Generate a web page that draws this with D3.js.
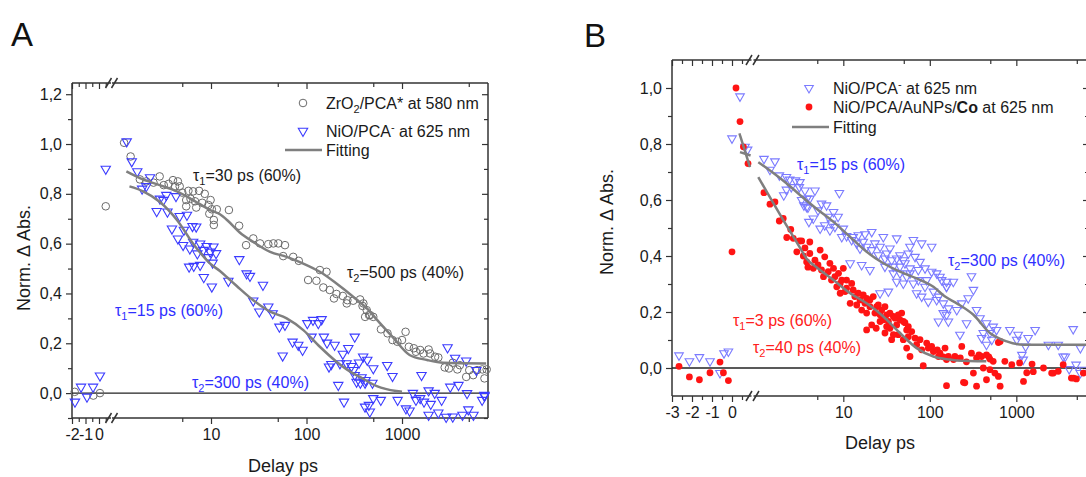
<!DOCTYPE html>
<html>
<head>
<meta charset="utf-8">
<script src="https://d3js.org/d3.v7.min.js"></script>
<style>
body { margin: 0; background: #fff; }
svg { display: block; }
text { font-family: Arial, "Liberation Sans", sans-serif; }
</style>
</head>
<body>
<div id="chart"></div>
<script>
// ---- panel A data: [delay ps, norm. abs] ----
var aLinCircle = [[-1.8, 0.005], [-0.42, -0.01], [0.07, 0.0], [0.5, 0.75]];
var aLinTri = [[-1.78, -0.035], [-1.33, 0.025], [-0.89, -0.015], [-0.44, 0.025], [0.07, 0.07], [0.5, 0.9]];
var aCircle = [[1.23,1.005],[1.44,0.95],[1.8,0.858],[2.1,0.85],[2.5,0.845],[2.9,0.87],[3.2,0.835],[3.6,0.84],[4.0,0.855],[4.5,0.85],[4.2,0.83],[4.7,0.83],[5.0,0.805],[5.8,0.812],[6.5,0.81],[7.5,0.812],[8.6,0.8],[5.5,0.775],[6.1,0.78],[6.8,0.77],[5.5,0.75],[7.0,0.745],[8.1,0.764],[9.4,0.755],[9.9,0.775],[10.2,0.738],[11.5,0.738],[9.6,0.72],[10.7,0.695],[10.7,0.675],[15.4,0.735],[19.7,0.672],[27.7,0.621],[23.3,0.594],[32.6,0.601],[39.8,0.598],[45,0.601],[50.7,0.601],[59.5,0.594],[57,0.55],[72.6,0.547],[83,0.531],[138,0.494],[162,0.487],[104,0.454],[127,0.451],[150,0.424],[175,0.414],[206,0.398],[194,0.38],[240,0.39],[268,0.373],[308,0.371],[364,0.376],[394,0.36],[264,0.36],[427,0.333],[411,0.306],[452,0.313],[386,0.35],[462,0.313],[500,0.306],[602,0.256],[705,0.24],[795,0.213],[895,0.206],[1000,0.213],[1090,0.246],[1180,0.186],[1330,0.18],[1400,0.166],[1550,0.173],[1680,0.159],[1900,0.175],[1970,0.159],[2220,0.146],[2400,0.143],[2800,0.103],[3100,0.099],[3400,0.122],[3800,0.095],[4030,0.112],[4700,0.065],[5060,0.092],[5560,0.072],[6100,0.092],[6930,0.095],[7300,0.059],[7700,0.095]];
var aTri = [[1.31,1.01],[1.48,0.93],[1.69,0.89],[2.3,0.866],[1.9,0.82],[2.1,0.83],[2.92,0.78],[2.7,0.73],[3.5,0.728],[3.17,0.775],[3.4,0.795],[4.3,0.79],[3.9,0.66],[4.7,0.71],[5.6,0.715],[4.5,0.62],[5.2,0.655],[6.4,0.67],[7.0,0.668],[5.1,0.594],[6.0,0.58],[6.5,0.607],[7.2,0.56],[7.7,0.6],[8.3,0.574],[9.0,0.59],[9.8,0.567],[10.6,0.588],[11.3,0.561],[9.4,0.545],[10.4,0.523],[5.9,0.507],[6.6,0.51],[7.7,0.514],[8.4,0.465],[10.2,0.427],[15.2,0.45],[19.8,0.537],[23.6,0.48],[25.6,0.47],[35,0.434],[27.7,0.371],[32,0.327],[39.8,0.347],[44.2,0.32],[52,0.266],[59.5,0.273],[56.3,0.15],[71.5,0.206],[82,0.193],[91,0.173],[102,0.28],[117,0.293],[133,0.28],[144,0.296],[113,0.226],[152,0.226],[164,0.202],[197,0.193],[172,0.106],[182,0.116],[240,0.157],[274,0.18],[320,0.226],[224,0.119],[263,0.119],[295,0.108],[320,0.072],[355,0.122],[392,0.146],[310,0.092],[215,0.032],[334,0.045],[366,0.041],[410,0.041],[247,-0.035],[410,-0.055],[433,0.133],[500,0.099],[377,0.063],[415,0.052],[490,0.041],[700,0.112],[795,0.068],[1600,0.072],[3000,0.183],[3600,0.141],[4700,0.13],[6000,0.092],[3200,0.025],[3900,0.032],[4800,-0.001],[7300,-0.008],[500,-0.021],[600,-0.028],[450,-0.048],[460,-0.075],[900,-0.028],[1300,0.0],[1400,-0.028],[1550,-0.021],[1700,-0.035],[1900,0.01],[2000,-0.044],[2200,0.0],[2600,-0.028],[1100,-0.062],[1200,-0.071],[1900,-0.088],[2400,-0.079],[2900,-0.096],[3400,-0.095],[4300,-0.088],[4950,-0.066],[5600,-0.088],[6900,-0.028],[7300,-0.012]];
var aFitCircle = [[1.3,0.89],[1.8,0.863],[2.9,0.835],[4.4,0.81],[6.5,0.775],[9.8,0.735],[12.4,0.718],[15.2,0.69],[20,0.645],[27.7,0.607],[41.6,0.567],[62,0.547],[92.6,0.52],[138,0.487],[206,0.44],[308,0.387],[463,0.327],[545,0.295],[795,0.226],[1200,0.153],[1830,0.133],[2700,0.122],[7600,0.119]];
var aFitTri = [[1.4,0.83],[1.95,0.81],[2.9,0.768],[4.4,0.695],[6.5,0.6],[9.8,0.52],[12.4,0.49],[15.2,0.46],[18.6,0.43],[27.7,0.373],[41.6,0.327],[62,0.3],[92.6,0.253],[138,0.186],[206,0.126],[308,0.079],[362,0.065],[545,0.028],[870,0.008],[1000,0.005]];

// ---- panel B data ----
var bLinTri = [[-2.65,0.045],[-2.13,0.024],[-1.63,0.039],[-1.1,0.024],[-0.6,-0.018],[-0.4,0.053],[-0.18,0.059],[0.0,0.82],[0.4,0.97],[0.65,0.79],[0.78,0.78]];
var bLinDot = [[-2.65,0.006],[-2.13,-0.032],[-1.63,-0.042],[-1.1,-0.017],[-0.6,0.021],[-0.43,-0.017],[-0.18,-0.045],[0.0,0.415],[0.2,1.0],[0.4,0.88],[0.57,0.79],[0.8,0.73]];
var bLinFitA = [[0.37,0.838],[0.9,0.717]];
var bLinFitB = [[0.4,0.771],[0.93,0.759]];
var bTri = [[1.21,0.747],[1.62,0.738],[1.42,0.708],[1.82,0.688],[2.2,0.682],[2.4,0.673],[2.8,0.67],[3.1,0.646],[2.5,0.646],[2.05,0.617],[2.2,0.637],[3.8,0.605],[3.5,0.581],[3.9,0.573],[4.0,0.522],[3.15,0.664],[3.6,0.634],[4.7,0.634],[3.77,0.575],[4.5,0.534],[5.6,0.587],[6.4,0.581],[7.7,0.557],[9.0,0.625],[5.4,0.498],[6.1,0.51],[7.0,0.492],[8.0,0.504],[8.7,0.54],[9.6,0.468],[10.9,0.471],[13,0.468],[14.9,0.474],[17.8,0.478],[21.3,0.486],[12,0.374],[16.3,0.368],[20.3,0.35],[15.6,0.427],[21.3,0.421],[25.4,0.403],[30.3,0.391],[41.4,0.463],[34.6,0.427],[41.4,0.391],[26.6,0.267],[33.2,0.273],[37.9,0.338],[45.2,0.362],[51.6,0.374],[59,0.356],[54,0.326],[49.4,0.302],[41.4,0.308],[64.5,0.302],[70.4,0.267],[80.5,0.255],[96,0.237],[120,0.243],[131,0.326],[156,0.308],[143,0.196],[126,0.166],[164,0.166],[59,0.433],[64.5,0.457],[80.5,0.445],[105,0.433],[29,0.468],[73.6,0.314],[88,0.29],[187,0.308],[319,0.279],[278,0.249],[234,0.231],[347,0.207],[205,0.207],[156,0.19],[223,0.119],[266,0.16],[380,0.178],[452,0.16],[540,0.148],[415,0.125],[495,0.125],[590,0.136],[397,0.107],[520,0.101],[452,0.083],[843,0.136],[1050,0.119],[1370,0.107],[1650,0.136],[1280,0.077],[1160,0.047],[2350,0.083],[3050,0.083],[4540,0.139],[3680,0.041],[4900,0.012],[5950,-0.006],[303,0.328],[156,0.29],[1010,0.101],[1200,0.03],[3480,0.041],[4080,-0.004],[5500,0.071],[5500,-0.018],
    [3.3,0.6],[4.1,0.605],[5.1,0.563],[6.7,0.54],[7.3,0.516],[10,0.498],[12.5,0.457],[14.3,0.445],[17,0.451],[18.6,0.433],[23.2,0.445],[26.6,0.433],[31.7,0.409],[36.2,0.385],[45.2,0.403],[49.4,0.385],[56.4,0.409],[67.4,0.397],[77,0.379],[88,0.356],[105,0.344],[120,0.338],[137,0.314],[156,0.29],[45.2,0.338],[37.9,0.362],[30.3,0.362],[59,0.338],[73.6,0.35],[92,0.314],[110,0.273],[126,0.255],[143,0.231],[164,0.213]];
var bDot = [[1.21,0.626],[1.42,0.585],[1.62,0.593],[1.82,0.525],[2.02,0.534],[2.22,0.466],[2.47,0.495],[2.64,0.463],[2.9,0.415],[3.1,0.454],[3.3,0.454],[3.6,0.429],[3.45,0.4],[3.9,0.36],[4.1,0.409],[4.7,0.385],[5.1,0.368],[5.6,0.35],[3.77,0.379],[4.5,0.356],[5.9,0.326],[6.7,0.344],[7.3,0.314],[8.0,0.326],[8.4,0.29],[9.6,0.314],[10,0.356],[9.2,0.267],[10.9,0.285],[12,0.231],[13.6,0.255],[15.6,0.243],[17,0.261],[18.6,0.249],[20.3,0.219],[18.6,0.196],[16.3,0.207],[14.3,0.225],[23.2,0.196],[26.6,0.19],[21.3,0.154],[18.6,0.136],[29,0.172],[33.2,0.166],[34.6,0.142],[41.4,0.154],[45.2,0.172],[51.6,0.162],[30.3,0.125],[36.2,0.101],[43.2,0.119],[49.4,0.101],[56.4,0.112],[54,0.071],[70.4,0.083],[80.5,0.065],[96,0.071],[110,0.059],[126,0.041],[150,0.071],[59,0.041],[84,0.008],[156,-0.063],[10.9,0.314],[12.5,0.302],[24.3,0.219],[31.7,0.19],[37.9,0.184],[47.3,0.196],[54,0.136],[620,0.091],[234,0.077],[195,0.041],[156,0.03],[303,0.053],[347,0.036],[397,0.041],[452,0.047],[495,0.032],[540,0.024],[319,-0.018],[415,0.0],[495,-0.006],[565,-0.018],[620,-0.03],[452,-0.042],[650,-0.065],[245,-0.051],[737,0.024],[886,0.012],[1090,0.018],[1320,-0.017],[1570,-0.013],[1210,-0.048],[2060,0.0],[2560,-0.018],[3050,-0.012],[3480,0.012],[4330,-0.036],[4950,-0.039],[5950,-0.018],[1520,0.014],[2680,-0.018],[4590,-0.036],[650,0.095],[254,-0.053],[347,-0.065],[122,0.065],[143,0.04],[188,0.03],[225,0.036],[265,0.022],[370,0.047],[480,0.04],
    [4.1,0.45],[5.4,0.421],[6.1,0.397],[7.0,0.374],[7.7,0.356],[8.8,0.338],[9.2,0.302],[10.5,0.273],[13,0.279],[14.9,0.267],[17.8,0.231],[20.3,0.243],[22.2,0.255],[25.4,0.225],[27.8,0.207],[30.3,0.219],[34.6,0.196],[39.6,0.178],[43.2,0.19],[49.4,0.166],[56.4,0.148],[61.7,0.13],[67.4,0.107],[37.9,0.119],[31.7,0.148],[26.6,0.166],[24,0.142],[77,0.101],[92,0.089],[105,0.077],[131,0.053],[164,0.041]];
var bFitTri = [[1.04,0.735],[1.5,0.7],[2.2,0.66],[3.15,0.618],[4.9,0.569],[7.7,0.522],[12,0.468],[18.6,0.415],[29,0.374],[45.2,0.344],[70.4,0.32],[110,0.29],[150,0.255],[205,0.231],[319,0.19],[495,0.125],[775,0.095],[1200,0.083],[6900,0.083]];
var bFitDot = [[1.04,0.682],[2,0.531],[3.15,0.43],[3.77,0.39],[4.9,0.36],[7.7,0.314],[12,0.267],[18.6,0.231],[29,0.184],[45.2,0.125],[70.4,0.071],[110,0.041],[171,0.03],[205,0.027],[450,0.024]];

// tick labels
var aYTicks = [0, 0.2, 0.4, 0.6, 0.8, 1.0, 1.2];
var bYTicks = [0, 0.2, 0.4, 0.6, 0.8, 1.0];
var aLinTicks = [-2, -1, 0];
var bLinTicks = [-3, -2, -1, 0];
var logTicks = [10, 100, 1000];
var logMinor = [5, 50, 500, 5000];

var GRAY = "#7f7f7f", DARK = "#333", FS = 16;

var svg = d3.select("#chart").append("svg")
    .attr("width", 1086)
    .attr("height", 477);

function commaFmt(d) { return d3.format(".1f")(d).replace(".", ","); }

function styleAxis(a) {
    a.select(".domain").remove();
    a.selectAll("line").attr("stroke", DARK).attr("stroke-width", 1.2);
    a.selectAll("text").attr("font-size", FS).attr("fill", "#1a1a1a")
        .attr("font-family", "Arial, 'Liberation Sans', sans-serif");
    return a;
}

function addAxis(g, axis, tx, ty) {
    return styleAxis(g.append("g").attr("transform", "translate(" + tx + "," + ty + ")").call(axis));
}

function drawPanel(p) {
    var g = svg.append("g");
    var xl = d3.scaleLinear().domain(p.linDomain).range(p.linRange);
    var xg = d3.scaleLog().domain(p.logDomain).range(p.logRange);
    var y = d3.scaleLinear().domain(p.yDomain).range([p.bottom, p.top]);

    // y axes
    addAxis(g, d3.axisLeft(y).tickValues(p.yTicks).tickSize(6).tickPadding(4).tickFormat(commaFmt), p.left, 0);
    addAxis(g, d3.axisLeft(y).tickValues(p.yMinor).tickSize(4).tickFormat(""), p.left, 0);
    addAxis(g, d3.axisRight(y).tickValues(p.yTicks).tickSize(-6).tickFormat(""), p.right, 0);
    addAxis(g, d3.axisRight(y).tickValues(p.yMinor).tickSize(-4).tickFormat(""), p.right, 0);

    // x axes, linear part
    addAxis(g, d3.axisBottom(xl).tickValues(p.linTicks).tickSize(6).tickPadding(5).tickFormat(function(d) { return String(d); }), 0, p.bottom);
    addAxis(g, d3.axisBottom(xl).tickValues(p.linMinor).tickSize(4).tickFormat(""), 0, p.bottom);
    addAxis(g, d3.axisTop(xl).tickValues(p.linTicks).tickSize(-6).tickFormat(""), 0, p.top);
    addAxis(g, d3.axisTop(xl).tickValues(p.linMinor).tickSize(-4).tickFormat(""), 0, p.top);
    // x axes, log part
    var minor = logMinor.filter(function(d) { return xg(d) < p.right; });
    addAxis(g, d3.axisBottom(xg).tickValues(logTicks).tickSize(6).tickPadding(5).tickFormat(d3.format("d")), 0, p.bottom);
    addAxis(g, d3.axisBottom(xg).tickValues(minor).tickSize(4).tickFormat(""), 0, p.bottom);
    addAxis(g, d3.axisTop(xg).tickValues(logTicks).tickSize(-6).tickFormat(""), 0, p.top);
    addAxis(g, d3.axisTop(xg).tickValues(minor).tickSize(-4).tickFormat(""), 0, p.top);

    // frame with axis break
    var frame = g.append("g").attr("stroke", DARK).attr("stroke-width", 1.5).attr("fill", "none");
    [p.top, p.bottom].forEach(function(yy) {
        frame.append("line").attr("x1", p.left).attr("x2", p.brk[0] + 2.5).attr("y1", yy).attr("y2", yy);
        frame.append("line").attr("x1", p.brk[1] - 2.5).attr("x2", p.right).attr("y1", yy).attr("y2", yy);
        [p.brk[0], p.brk[1]].forEach(function(bx) {
            frame.append("line").attr("x1", bx - 3).attr("y1", yy + 5).attr("x2", bx + 3).attr("y2", yy - 5);
        });
    });
    frame.append("line").attr("x1", p.left).attr("x2", p.left).attr("y1", p.top).attr("y2", p.bottom);
    frame.append("line").attr("x1", p.right).attr("x2", p.right).attr("y1", p.top).attr("y2", p.bottom);

    // zero line
    g.append("line").attr("x1", p.left).attr("x2", p.right)
        .attr("y1", y(0)).attr("y2", y(0))
        .attr("stroke", "#222").attr("stroke-width", 1.3);

    p.series.forEach(function(s) {
        var xs = s.lin ? xl : xg;
        var layer = g.append("g");
        if (s.kind === "circle") {
            layer.selectAll("circle").data(s.data).join("circle")
                .attr("cx", function(d) { return xs(d[0]); })
                .attr("cy", function(d) { return y(d[1]); })
                .attr("r", 3.8).attr("fill", "none")
                .attr("stroke", "#6b6b6b").attr("stroke-width", 1);
        } else if (s.kind === "dot") {
            layer.selectAll("circle").data(s.data).join("circle")
                .attr("cx", function(d) { return xs(d[0]); })
                .attr("cy", function(d) { return y(d[1]); })
                .attr("r", 3.4).attr("fill", "#ff1414");
        } else if (s.kind === "tri") {
            layer.selectAll("path").data(s.data).join("path")
                .attr("d", d3.symbol().type(d3.symbolTriangle).size(s.size))
                .attr("transform", function(d) { return "translate(" + xs(d[0]) + "," + y(d[1]) + ") rotate(180)"; })
                .attr("fill", "none").attr("stroke", s.color).attr("stroke-width", 1.1);
        } else if (s.kind === "fit") {
            var line = d3.line()
                .x(function(d) { return xs(d[0]); })
                .y(function(d) { return y(d[1]); })
                .curve(d3.curveMonotoneX);
            layer.append("path").attr("d", line(s.data))
                .attr("fill", "none").attr("stroke", GRAY).attr("stroke-width", 2.5);
        }
    });

    // axis titles and panel letter
    g.append("text").attr("x", p.letter[0]).attr("y", p.letter[1])
        .attr("font-size", 33).attr("fill", "#111").text(p.name);
    g.append("text").attr("transform", "translate(" + p.yTitle[0] + "," + p.yTitle[1] + ") rotate(-90)")
        .attr("text-anchor", "middle").attr("font-size", 18).attr("fill", "#1a1a1a").text("Norm. \u0394 Abs.");
    g.append("text").attr("x", p.xTitle[0]).attr("y", p.xTitle[1])
        .attr("text-anchor", "middle").attr("font-size", 18).attr("fill", "#1a1a1a").text("Delay ps");
    return g;
}

// text helper: parts = [[text, "sub"|"sup"|"b"|""], ...]
function rich(g, x, y, parts, color) {
    var t = g.append("text").attr("x", x).attr("y", y).attr("font-size", FS).attr("fill", color || "#1a1a1a");
    var shift = 0;
    parts.forEach(function(pt) {
        var s = t.append("tspan").text(pt[0]);
        var target = pt[1] === "sub" ? 4 : pt[1] === "sup" ? -6 : 0;
        if (target !== shift) { s.attr("dy", target - shift); shift = target; }
        if (pt[1] === "sub" || pt[1] === "sup") s.attr("font-size", 11);
        if (pt[1] === "b") s.attr("font-weight", "bold");
    });
    return t;
}

var gA = drawPanel({
    name: "A", letter: [11, 46], yTitle: [30, 258], xTitle: [283, 472],
    left: 72, right: 488, top: 83, bottom: 418, brk: [108.5, 114.5],
    linDomain: [-2, 0], linRange: [72, 99], logDomain: [1, 7950], logRange: [115.5, 488],
    yDomain: [-0.1, 1.245], yTicks: aYTicks, yMinor: [-0.1, 0.1, 0.3, 0.5, 0.7, 0.9, 1.1],
    linTicks: aLinTicks, linMinor: [-1.5, -0.5, 0.5],
    series: [
        {kind: "circle", data: aLinCircle, lin: true},
        {kind: "circle", data: aCircle},
        {kind: "tri", data: aLinTri, lin: true, color: "#3b3bff", size: 38},
        {kind: "tri", data: aTri, color: "#3b3bff", size: 38},
        {kind: "fit", data: aFitCircle},
        {kind: "fit", data: aFitTri}
    ]
});

var gB = drawPanel({
    name: "B", letter: [584, 47], yTitle: [613, 222], xTitle: [880, 449],
    left: 672, right: 1089, top: 60, bottom: 396, brk: [749, 756],
    linDomain: [-3, 0], linRange: [672, 732], logDomain: [1, 6920], logRange: [756.8, 1089],
    yDomain: [-0.1, 1.1], yTicks: bYTicks, yMinor: [0.1, 0.3, 0.5, 0.7, 0.9],
    linTicks: bLinTicks, linMinor: [-2.5, -1.5, -0.5, 0.5],
    series: [
        {kind: "tri", data: bLinTri, lin: true, color: "#7b7bff", size: 32},
        {kind: "tri", data: bTri, color: "#7b7bff", size: 32},
        {kind: "dot", data: bLinDot, lin: true},
        {kind: "dot", data: bDot},
        {kind: "fit", data: bLinFitA, lin: true},
        {kind: "fit", data: bLinFitB, lin: true},
        {kind: "fit", data: bFitTri},
        {kind: "fit", data: bFitDot}
    ]
});

// legend A
gA.append("circle").attr("cx", 303).attr("cy", 103).attr("r", 3.8).attr("fill", "none").attr("stroke", "#6b6b6b");
rich(gA, 326, 109, [["ZrO", ""], ["2", "sub"], ["/PCA* at 580 nm", ""]]);
gA.append("path").attr("d", d3.symbol().type(d3.symbolTriangle).size(38)).attr("transform", "translate(303,131) rotate(180)")
    .attr("fill", "none").attr("stroke", "#3b3bff").attr("stroke-width", 1.1);
rich(gA, 326, 137, [["NiO/PCA", ""], ["-", "sup"], [" at 625 nm", ""]]);
gA.append("line").attr("x1", 285).attr("x2", 322).attr("y1", 150).attr("y2", 150).attr("stroke", GRAY).attr("stroke-width", 2.5);
rich(gA, 326, 156, [["Fitting", ""]]);

// annotations A
rich(gA, 193, 181, [["\u03c4", ""], ["1", "sub"], ["=30 ps (60%)", ""]]);
rich(gA, 347, 278, [["\u03c4", ""], ["2", "sub"], ["=500 ps (40%)", ""]]);
rich(gA, 115, 316, [["\u03c4", ""], ["1", "sub"], ["=15 ps (60%)", ""]], "#2f2fff");
rich(gA, 192, 388, [["\u03c4", ""], ["2", "sub"], ["=300 ps (40%)", ""]], "#2f2fff");

// legend B
gB.append("path").attr("d", d3.symbol().type(d3.symbolTriangle).size(32)).attr("transform", "translate(809,88) rotate(180)")
    .attr("fill", "none").attr("stroke", "#7b7bff").attr("stroke-width", 1.1);
rich(gB, 833, 94, [["NiO/PCA", ""], ["-", "sup"], [" at 625 nm", ""]]);
gB.append("circle").attr("cx", 809).attr("cy", 107).attr("r", 3.4).attr("fill", "#ff1414");
rich(gB, 833, 113, [["NiO/PCA/AuNPs/", ""], ["Co", "b"], [" at 625 nm", ""]]);
gB.append("line").attr("x1", 792).attr("x2", 829).attr("y1", 127).attr("y2", 127).attr("stroke", GRAY).attr("stroke-width", 2.5);
rich(gB, 833, 133, [["Fitting", ""]]);

// annotations B
rich(gB, 797, 170, [["\u03c4", ""], ["1", "sub"], ["=15 ps (60%)", ""]], "#2f2fff");
rich(gB, 948, 266, [["\u03c4", ""], ["2", "sub"], ["=300 ps (40%)", ""]], "#2f2fff");
rich(gB, 733, 326, [["\u03c4", ""], ["1", "sub"], ["=3 ps (60%)", ""]], "#ff2020");
rich(gB, 753, 353, [["\u03c4", ""], ["2", "sub"], ["=40 ps (40%)", ""]], "#ff2020");
</script>
</body>
</html>
